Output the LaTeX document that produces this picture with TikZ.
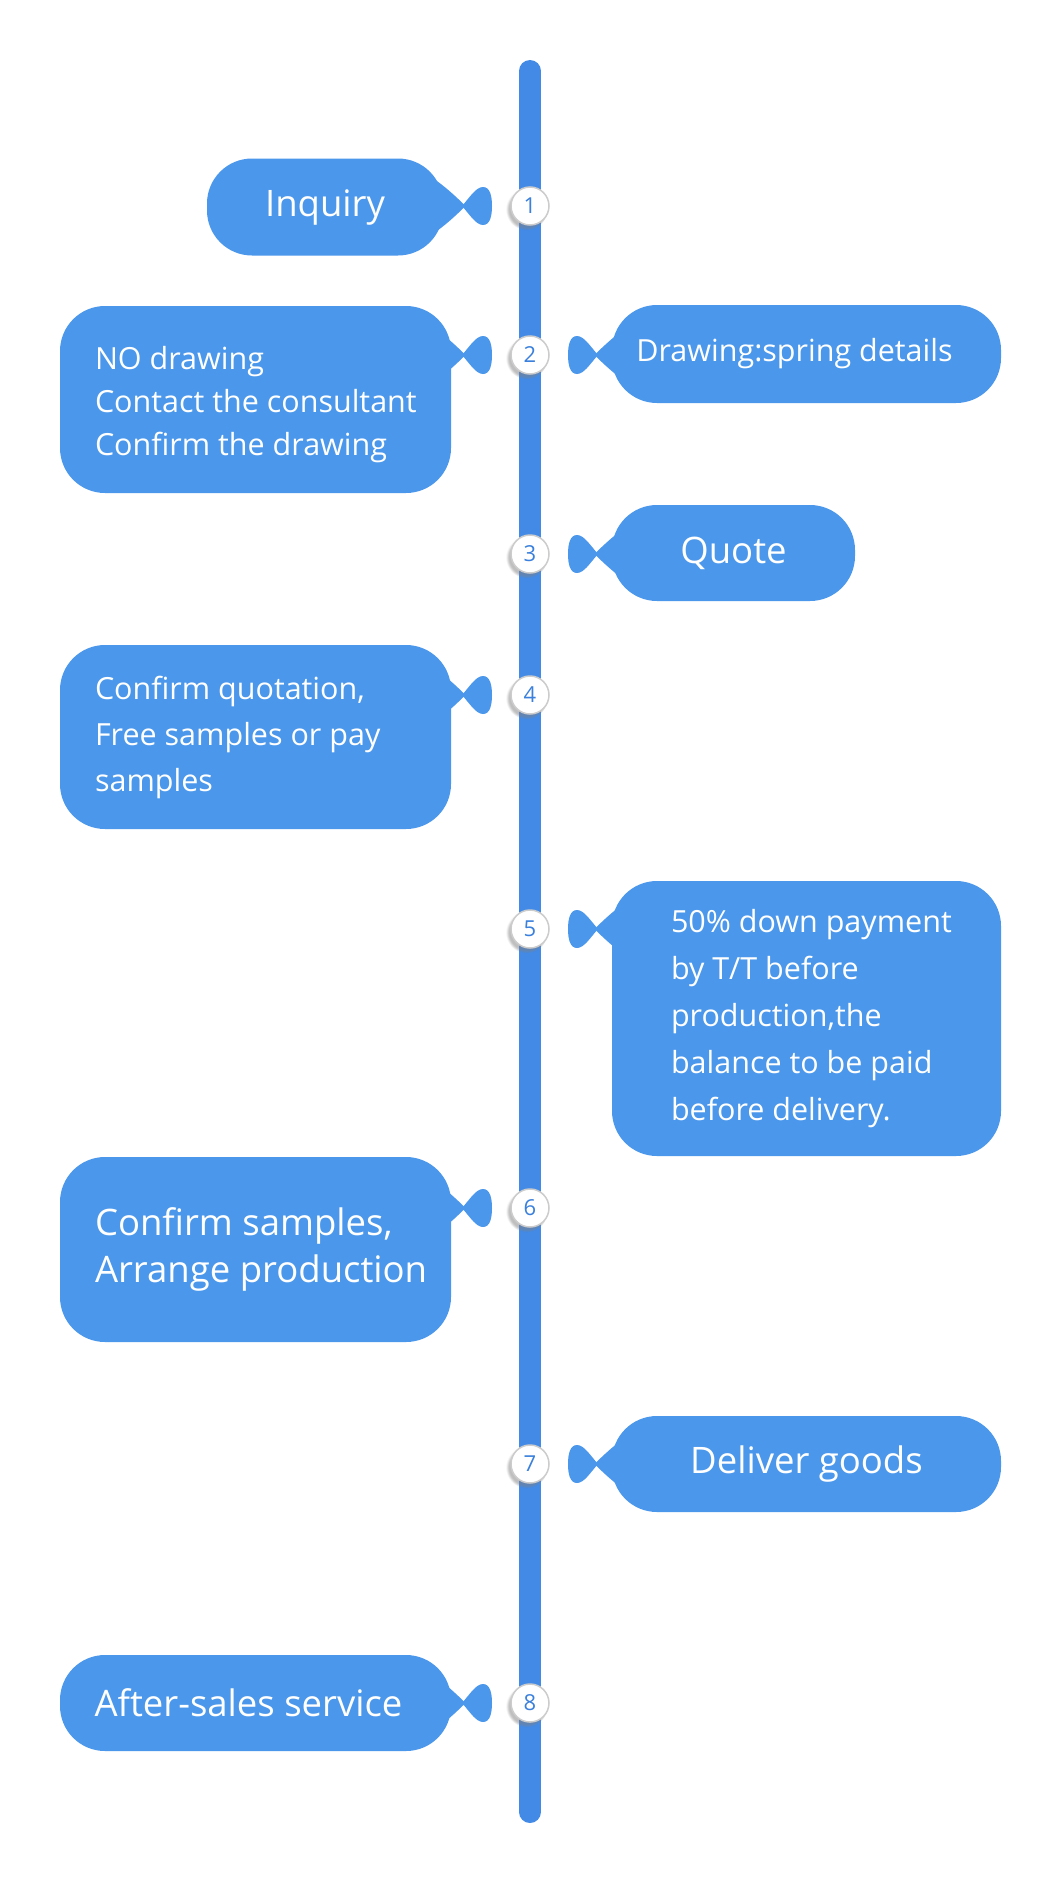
\documentclass[tikz,border=0pt]{standalone}
\usepackage{fontspec}
\setmainfont{Open Sans}
\usetikzlibrary{positioning, shadows}
\definecolor{boxblue}{RGB}{74,151,235}
\definecolor{barblue}{RGB}{66,138,230}
\definecolor{numblue}{RGB}{58,128,220}
\tikzset{
    % rounded boxes and numbered dots on the time bar
    stepbox/.style = {rectangle, rounded corners=45pt, fill=boxblue, inner sep=0pt, text=white},
    bigtext/.style = {font=\fontsize{36.5}{44}\selectfont},
    smalltext/.style = {text=white, align=left, inner sep=0pt, font=\fontsize{30.5}{44}\selectfont},
    dot/.style = {circle, minimum size=38pt, inner sep=0pt, fill=white, draw=black!20, line width=1.5pt, text=numblue, font=\fontsize{22}{22}\selectfont, circular drop shadow={shadow xshift=-3pt, shadow yshift=-3pt, opacity=0.5}},
    lobe/.pic = {
        \fill[boxblue] (-68,0) .. controls (-60,9) and (-54,19) .. (-47,19) .. controls (-40,19) and (-38,10) .. (-38,0) .. controls (-38,-10) and (-40,-19) .. (-47,-19) .. controls (-54,-19) and (-60,-9) .. (-68,0) -- cycle;
        \fill[boxblue] (-150,46.5) .. controls (-112,46.5) and (-80,15) .. (-66,1.5) -- (-66,-1.5) .. controls (-80,-15) and (-112,-46.5) .. (-150,-46.5) -- cycle;
    }
}

\begin{document}
\begin{tikzpicture}[x=1pt, y=1pt]
\useasboundingbox (0,0) rectangle (1060,-1884);

% Time bar
\coordinate (bar_top) at (530,-71);
\coordinate (bar_bottom) at (530,-1812);
\draw[barblue, line width=22pt, line cap=round] (bar_top) -- (bar_bottom);

% Dots
\foreach \n/\y in {1/206, 2/355, 3/554, 4/695, 5/929, 6/1208, 7/1464, 8/1703}
    \node[dot] (c\n) at (530,-\y) {\n};

% Connectors
\foreach \n in {1, 2, 4, 6, 8}
    \pic at (c\n) {lobe};
\foreach \n in {2, 3, 5, 7}
    \pic[xscale=-1] at (c\n) {lobe};

% Boxes
\node[stepbox, bigtext, minimum width=236pt, minimum height=97pt] (inquiry) at (325,-207) {Inquiry};
\node[stepbox, minimum width=391pt, minimum height=187pt] (no_drawing) at (255.5,-399.5) {};
\node[stepbox, font=\fontsize{30.5}{34}\selectfont, minimum width=389pt, minimum height=98pt] (drawing) at (806.5,-354) {\hspace*{-24pt}Drawing:spring details};
\node[stepbox, bigtext, minimum width=243pt, minimum height=96pt] (quote) at (733.5,-553) {Quote};
\node[stepbox, minimum width=391pt, minimum height=184pt] (confirm_quote) at (255.5,-737) {};
\node[stepbox, minimum width=389pt, minimum height=275pt] (payment) at (806.5,-1018.5) {};
\node[stepbox, minimum width=391pt, minimum height=185pt] (confirm_samples) at (255.5,-1249.5) {};
\node[stepbox, bigtext, minimum width=389pt, minimum height=96pt] (deliver) at (806.5,-1464) {Deliver goods};
\node[stepbox, bigtext, minimum width=391pt, minimum height=96pt] (after_sales) at (255.5,-1703) {\hspace*{-14pt}After-sales service};

% Texts
\node[smalltext, font=\fontsize{30.5}{43}\selectfont, right=35pt of no_drawing.west, yshift=-5pt] (no_drawing_text) {NO drawing\\Contact the consultant\\Confirm the drawing};
\node[smalltext, font=\fontsize{30.5}{46}\selectfont, right=35pt of confirm_quote.west] (confirm_quote_text) {Confirm quotation,\\Free samples or pay\\samples};
\node[smalltext, font=\fontsize{30.5}{47}\selectfont, right=59pt of payment.west] (payment_text) {50\% down payment\\by T/T before\\production,the\\balance to be paid\\before delivery.};
\node[smalltext, font=\fontsize{36.5}{47}\selectfont, right=35pt of confirm_samples.west] (confirm_samples_text) {Confirm samples,\\Arrange production};

\end{tikzpicture}
\end{document}
